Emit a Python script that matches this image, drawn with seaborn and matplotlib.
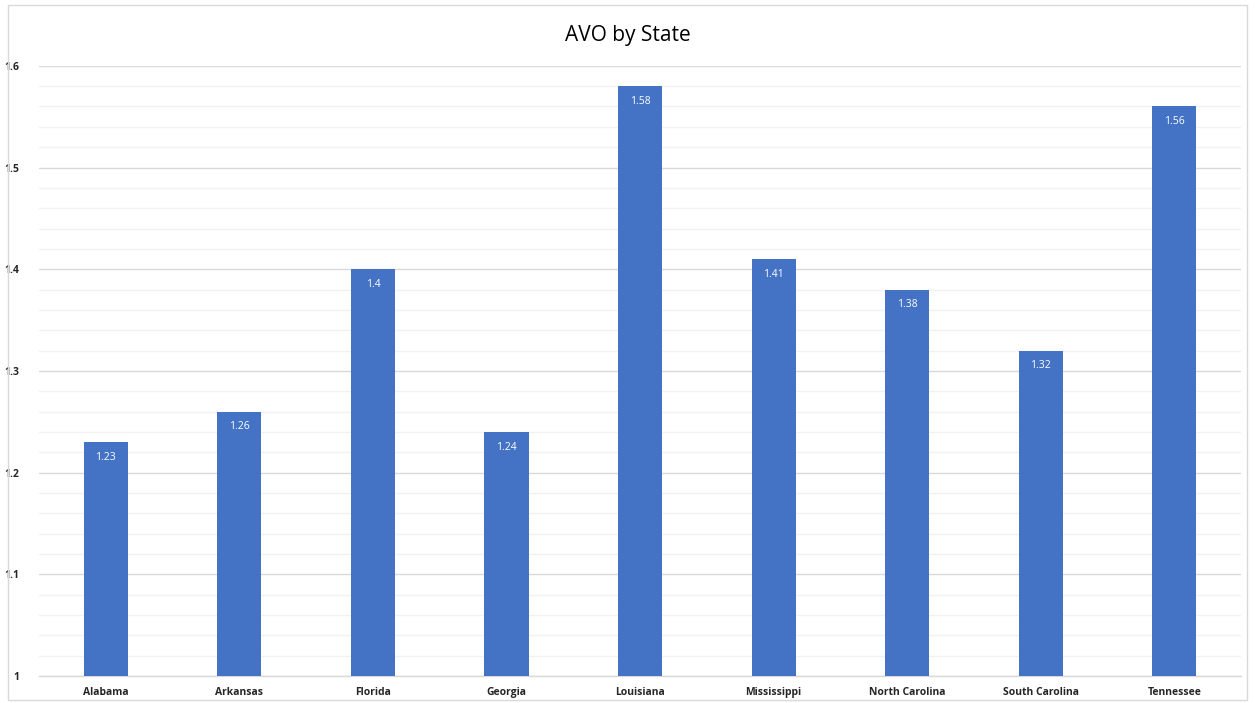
import matplotlib
matplotlib.use("Agg")
import matplotlib.pyplot as plt
import matplotlib.ticker as mticker
from matplotlib.patches import Rectangle
import seaborn as sns
import pandas as pd

states = ["Alabama", "Arkansas", "Florida", "Georgia", "Louisiana",
          "Mississippi", "North Carolina", "South Carolina", "Tennessee"]
avo = [1.23, 1.26, 1.40, 1.24, 1.58, 1.41, 1.38, 1.32, 1.56]
value_labels = ["1.23", "1.26", "1.4", "1.24", "1.58", "1.41", "1.38", "1.32", "1.56"]
y_ticks = [1.0, 1.1, 1.2, 1.3, 1.4, 1.5, 1.6]
y_tick_labels = ["1", "1.1", "1.2", "1.3", "1.4", "1.5", "1.6"]

sns.set_theme(style="white")
plt.rcParams["font.family"] = ["Open Sans", "DejaVu Sans"]

df = pd.DataFrame({"State": states, "AVO": avo})

fig = plt.figure(figsize=(12.55, 7.03), dpi=100)
ax = fig.add_axes([0.031, 0.0384, 0.958, 0.868])

sns.barplot(data=df, x="State", y="AVO", color="#4472C4", width=0.33,
            saturation=1, linewidth=0, ax=ax, zorder=3)

ax.set_ylim(1.0, 1.6)
ax.set_xlim(-0.5, len(states) - 0.5)
ax.set_yticks(y_ticks)
ax.set_yticklabels(y_tick_labels)
ax.yaxis.set_minor_locator(mticker.MultipleLocator(0.02))
ax.grid(axis="y", which="major", color="#D9D9D9", linewidth=1.0, zorder=0)
ax.grid(axis="y", which="minor", color="#F2F2F2", linewidth=1.0, zorder=0)
ax.set_axisbelow(True)

for side in ["top", "right", "left"]:
    ax.spines[side].set_visible(False)
ax.spines["bottom"].set_color("#D9D9D9")
ax.spines["bottom"].set_linewidth(1.0)

ax.tick_params(axis="both", which="both", length=0)
ax.tick_params(axis="y", pad=14)
ax.tick_params(axis="x", pad=8)
for lab in ax.get_xticklabels() + ax.get_yticklabels():
    lab.set_fontsize(7.5)
    lab.set_fontweight("bold")
    lab.set_color("#262626")

ax.set_xlabel("")
ax.set_ylabel("")

for i, (v, t) in enumerate(zip(avo, value_labels)):
    ax.annotate(t, xy=(i, v), xytext=(0, -7), textcoords="offset points",
                ha="center", va="top", color="white", fontsize=7.5, zorder=4)

fig.text(0.5, 0.950, "AVO by State", ha="center", va="center",
         fontsize=15, color="#000000")

fig.patches.append(Rectangle((0.006, 0.004), 0.988, 0.989, transform=fig.transFigure,
                             fill=False, edgecolor="#D9D9D9", linewidth=1.0))

fig.savefig("out.png", dpi=100, facecolor="white")
